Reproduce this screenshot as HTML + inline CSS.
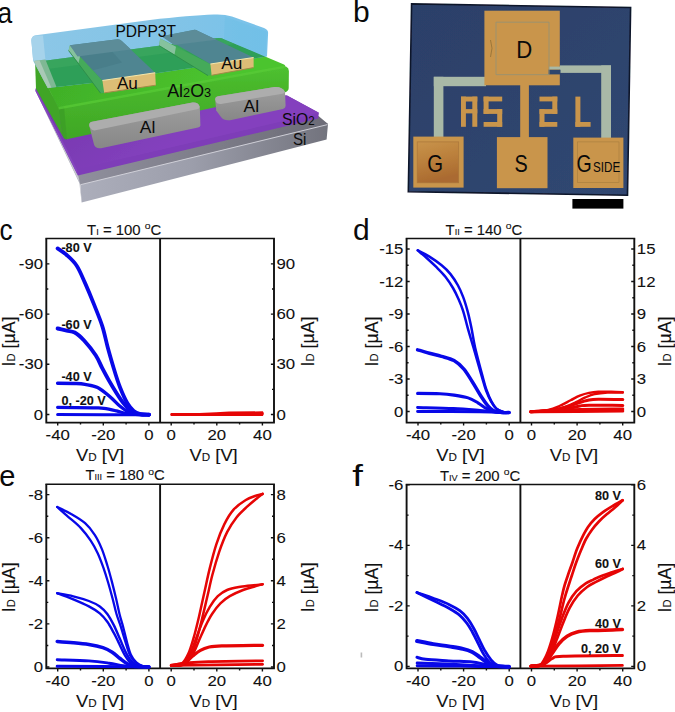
<!DOCTYPE html>
<html><head><meta charset="utf-8"><title>figure</title>
<style>
html,body{margin:0;padding:0;background:#fff;}
svg{display:block;}
text{font-family:"Liberation Sans",sans-serif;}
</style></head><body>
<svg width="675" height="712" viewBox="0 0 675 712">
<rect width="675" height="712" fill="#fff"/>
<path d="M46.3 414.5h3.1M274.0 414.5h-3.1M46.3 364.3h3.1M274.0 364.3h-3.1M46.3 314.1h3.1M274.0 314.1h-3.1M46.3 263.9h3.1M274.0 263.9h-3.1M46.3 389.4h2.0M274.0 389.4h-2.0M46.3 339.2h2.0M274.0 339.2h-2.0M46.3 289.0h2.0M274.0 289.0h-2.0M57.7 422.6v3.0M103.3 422.6v3.0M148.9 422.6v3.0M80.5 422.6v2.0M126.1 422.6v2.0M171.2 422.6v3.0M216.8 422.6v3.0M262.4 422.6v3.0M194.0 422.6v2.0M239.6 422.6v2.0" stroke="#111" stroke-width="1.4" fill="none"/>
<path d="M45.4 238.4H274.9" stroke="#111" stroke-width="1.5" fill="none"/>
<path d="M45.4 422.6H274.9M46.3 238.4V422.6M274.0 238.4V422.6M160.1 238.4V422.6" stroke="#111" stroke-width="1.9" fill="none"/>
<text transform="translate(43.1 419.5) scale(1.090 1)" font-size="15.4" text-anchor="end" font-weight="normal" fill="#111"  stroke="#111" stroke-width="0.10">0</text>
<text transform="translate(43.1 369.3) scale(1.090 1)" font-size="15.4" text-anchor="end" font-weight="normal" fill="#111"  stroke="#111" stroke-width="0.10">-30</text>
<text transform="translate(43.1 319.1) scale(1.090 1)" font-size="15.4" text-anchor="end" font-weight="normal" fill="#111"  stroke="#111" stroke-width="0.10">-60</text>
<text transform="translate(43.1 268.9) scale(1.090 1)" font-size="15.4" text-anchor="end" font-weight="normal" fill="#111"  stroke="#111" stroke-width="0.10">-90</text>
<text transform="translate(276.5 419.5) scale(1.090 1)" font-size="15.4" text-anchor="start" font-weight="normal" fill="#111"  stroke="#111" stroke-width="0.10">0</text>
<text transform="translate(276.5 369.3) scale(1.090 1)" font-size="15.4" text-anchor="start" font-weight="normal" fill="#111"  stroke="#111" stroke-width="0.10">30</text>
<text transform="translate(276.5 319.1) scale(1.090 1)" font-size="15.4" text-anchor="start" font-weight="normal" fill="#111"  stroke="#111" stroke-width="0.10">60</text>
<text transform="translate(276.5 268.9) scale(1.090 1)" font-size="15.4" text-anchor="start" font-weight="normal" fill="#111"  stroke="#111" stroke-width="0.10">90</text>
<text transform="translate(57.7 439.9) scale(1.090 1)" font-size="15.4" text-anchor="middle" font-weight="normal" fill="#111"  stroke="#111" stroke-width="0.10">-40</text>
<text transform="translate(103.3 439.9) scale(1.090 1)" font-size="15.4" text-anchor="middle" font-weight="normal" fill="#111"  stroke="#111" stroke-width="0.10">-20</text>
<text transform="translate(148.9 439.9) scale(1.090 1)" font-size="15.4" text-anchor="middle" font-weight="normal" fill="#111"  stroke="#111" stroke-width="0.10">0</text>
<text transform="translate(171.2 439.9) scale(1.090 1)" font-size="15.4" text-anchor="middle" font-weight="normal" fill="#111"  stroke="#111" stroke-width="0.10">0</text>
<text transform="translate(216.8 439.9) scale(1.090 1)" font-size="15.4" text-anchor="middle" font-weight="normal" fill="#111"  stroke="#111" stroke-width="0.10">20</text>
<text transform="translate(262.4 439.9) scale(1.090 1)" font-size="15.4" text-anchor="middle" font-weight="normal" fill="#111"  stroke="#111" stroke-width="0.10">40</text>
<text transform="translate(100.1 461.1) scale(1.080 1)" font-size="17.0" text-anchor="middle" font-weight="normal" fill="#111"  stroke="#111" stroke-width="0.10">V<tspan font-size="10.8">D</tspan> [V]</text>
<text transform="translate(213.6 461.1) scale(1.080 1)" font-size="17.0" text-anchor="middle" font-weight="normal" fill="#111"  stroke="#111" stroke-width="0.10">V<tspan font-size="10.8">D</tspan> [V]</text>
<text transform="translate(15.2 341.5) rotate(-90) scale(0.990 1)" font-size="17.9" text-anchor="middle" font-weight="normal" fill="#111"  stroke="#111" stroke-width="0.10">I<tspan font-size="11.3">D</tspan> [µA]</text>
<text transform="translate(313.8 341.5) rotate(-90) scale(0.990 1)" font-size="17.9" text-anchor="middle" font-weight="normal" fill="#111"  stroke="#111" stroke-width="0.10">I<tspan font-size="11.3">D</tspan> [µA]</text>
<text transform="translate(87.1 234.5) scale(1.080 1)" font-size="13.8" text-anchor="start" font-weight="normal" fill="#111"  stroke="#111" stroke-width="0.10">T<tspan font-size="8.5">I</tspan> = 100 <tspan font-size="9.6" dy="-5.6">o</tspan><tspan dy="5.6">C</tspan></text>
<path d="M57.6 414.6C72.8 414.6 133.8 414.7 149.0 414.7" fill="none" stroke="#0808e8" stroke-width="3.00" stroke-linecap="round" stroke-linejoin="round"/>
<path d="M57.6 407.3C63.6 407.4 85.7 407.6 93.4 407.8C101.1 408.0 100.1 407.8 104.0 408.3C107.9 408.8 112.8 410.0 116.6 410.9C120.4 411.8 123.0 412.8 126.7 413.4C130.4 414.0 135.1 414.4 138.8 414.6C142.5 414.8 147.3 414.7 149.0 414.7" fill="none" stroke="#0808e8" stroke-width="3.20" stroke-linecap="round" stroke-linejoin="round"/>
<path d="M57.6 383.2C60.5 383.2 70.1 383.3 74.7 383.5C79.3 383.7 81.2 383.7 85.0 384.4C88.8 385.1 93.4 385.4 97.6 387.5C101.8 389.6 106.5 393.8 110.3 397.0C114.1 400.2 117.2 404.0 120.4 406.5C123.6 409.0 126.1 410.9 129.2 412.2C132.3 413.5 135.5 414.0 138.8 414.4C142.1 414.8 147.3 414.6 149.0 414.7" fill="none" stroke="#0808e8" stroke-width="3.40" stroke-linecap="round" stroke-linejoin="round"/>
<path d="M57.6 328.5C59.1 328.9 63.9 329.9 66.7 330.6C69.5 331.3 71.8 330.9 74.7 332.5C77.6 334.1 80.6 336.7 84.1 340.5C87.6 344.3 92.7 350.7 95.7 355.3C98.7 359.9 99.9 363.7 102.1 367.9C104.3 372.1 106.6 376.4 109.0 380.6C111.4 384.8 114.2 389.4 116.6 393.2C119.0 397.0 121.2 400.4 123.6 403.3C126.0 406.2 128.4 409.1 131.1 410.9C133.8 412.7 136.5 413.5 139.5 414.1C142.5 414.7 147.4 414.6 149.0 414.7" fill="none" stroke="#0808e8" stroke-width="3.90" stroke-linecap="round" stroke-linejoin="round"/>
<path d="M57.6 248.4C59.1 249.5 63.5 252.1 66.7 255.0C69.9 257.9 73.6 261.0 76.7 265.7C79.8 270.4 82.2 276.7 85.1 283.1C88.0 289.6 91.2 297.3 94.0 304.4C96.8 311.5 99.9 318.7 102.2 325.8C104.5 332.9 105.8 340.1 107.7 347.2C109.6 354.3 111.8 361.8 113.8 368.5C115.8 375.2 117.7 381.4 120.0 387.2C122.3 393.0 125.1 399.4 127.4 403.3C129.7 407.2 131.5 409.1 133.7 410.9C135.9 412.7 138.0 413.5 140.6 414.1C143.2 414.7 147.6 414.6 149.0 414.7" fill="none" stroke="#0808e8" stroke-width="3.80" stroke-linecap="round" stroke-linejoin="round"/>
<path d="M171 413L199.4 413L216 412.3L229 411.6L262.8 411.3Q264.9 413.6 262.8 415.9L171 415.9Q169.4 414.5 171 413Z" fill="#e60505"/>
<text transform="translate(61.4 251.6) scale(0.960 1)" font-size="13.2" text-anchor="start" font-weight="bold" fill="#111"  stroke="#111" stroke-width="0.10">-80 V</text>
<text transform="translate(61.4 328.5) scale(0.960 1)" font-size="13.2" text-anchor="start" font-weight="bold" fill="#111"  stroke="#111" stroke-width="0.10">-60 V</text>
<text transform="translate(61.4 381.4) scale(0.960 1)" font-size="13.2" text-anchor="start" font-weight="bold" fill="#111"  stroke="#111" stroke-width="0.10">-40 V</text>
<text transform="translate(61.4 405.1) scale(0.960 1)" font-size="13.2" text-anchor="start" font-weight="bold" fill="#111"  stroke="#111" stroke-width="0.10">0, -20 V</text>
<path d="M406.6 411.5h3.1M634.3 411.5h-3.1M406.6 379.0h3.1M634.3 379.0h-3.1M406.6 346.5h3.1M634.3 346.5h-3.1M406.6 314.0h3.1M634.3 314.0h-3.1M406.6 281.5h3.1M634.3 281.5h-3.1M406.6 249.0h3.1M634.3 249.0h-3.1M406.6 395.2h2.0M634.3 395.2h-2.0M406.6 362.8h2.0M634.3 362.8h-2.0M406.6 330.2h2.0M634.3 330.2h-2.0M406.6 297.8h2.0M634.3 297.8h-2.0M406.6 265.2h2.0M634.3 265.2h-2.0M418.0 422.6v3.0M463.6 422.6v3.0M509.2 422.6v3.0M440.8 422.6v2.0M486.4 422.6v2.0M531.5 422.6v3.0M577.1 422.6v3.0M622.7 422.6v3.0M554.3 422.6v2.0M599.9 422.6v2.0" stroke="#111" stroke-width="1.4" fill="none"/>
<path d="M405.7 238.4H635.2" stroke="#111" stroke-width="1.5" fill="none"/>
<path d="M405.7 422.6H635.2M406.6 238.4V422.6M634.3 238.4V422.6M520.4 238.4V422.6" stroke="#111" stroke-width="1.9" fill="none"/>
<text transform="translate(403.4 416.5) scale(1.090 1)" font-size="15.4" text-anchor="end" font-weight="normal" fill="#111"  stroke="#111" stroke-width="0.10">0</text>
<text transform="translate(403.4 384.0) scale(1.090 1)" font-size="15.4" text-anchor="end" font-weight="normal" fill="#111"  stroke="#111" stroke-width="0.10">-3</text>
<text transform="translate(403.4 351.5) scale(1.090 1)" font-size="15.4" text-anchor="end" font-weight="normal" fill="#111"  stroke="#111" stroke-width="0.10">-6</text>
<text transform="translate(403.4 319.0) scale(1.090 1)" font-size="15.4" text-anchor="end" font-weight="normal" fill="#111"  stroke="#111" stroke-width="0.10">-9</text>
<text transform="translate(403.4 286.5) scale(1.090 1)" font-size="15.4" text-anchor="end" font-weight="normal" fill="#111"  stroke="#111" stroke-width="0.10">-12</text>
<text transform="translate(403.4 254.0) scale(1.090 1)" font-size="15.4" text-anchor="end" font-weight="normal" fill="#111"  stroke="#111" stroke-width="0.10">-15</text>
<text transform="translate(636.8 416.5) scale(1.090 1)" font-size="15.4" text-anchor="start" font-weight="normal" fill="#111"  stroke="#111" stroke-width="0.10">0</text>
<text transform="translate(636.8 384.0) scale(1.090 1)" font-size="15.4" text-anchor="start" font-weight="normal" fill="#111"  stroke="#111" stroke-width="0.10">3</text>
<text transform="translate(636.8 351.5) scale(1.090 1)" font-size="15.4" text-anchor="start" font-weight="normal" fill="#111"  stroke="#111" stroke-width="0.10">6</text>
<text transform="translate(636.8 319.0) scale(1.090 1)" font-size="15.4" text-anchor="start" font-weight="normal" fill="#111"  stroke="#111" stroke-width="0.10">9</text>
<text transform="translate(636.8 286.5) scale(1.090 1)" font-size="15.4" text-anchor="start" font-weight="normal" fill="#111"  stroke="#111" stroke-width="0.10">12</text>
<text transform="translate(636.8 254.0) scale(1.090 1)" font-size="15.4" text-anchor="start" font-weight="normal" fill="#111"  stroke="#111" stroke-width="0.10">15</text>
<text transform="translate(418.0 439.9) scale(1.090 1)" font-size="15.4" text-anchor="middle" font-weight="normal" fill="#111"  stroke="#111" stroke-width="0.10">-40</text>
<text transform="translate(463.6 439.9) scale(1.090 1)" font-size="15.4" text-anchor="middle" font-weight="normal" fill="#111"  stroke="#111" stroke-width="0.10">-20</text>
<text transform="translate(509.2 439.9) scale(1.090 1)" font-size="15.4" text-anchor="middle" font-weight="normal" fill="#111"  stroke="#111" stroke-width="0.10">0</text>
<text transform="translate(531.5 439.9) scale(1.090 1)" font-size="15.4" text-anchor="middle" font-weight="normal" fill="#111"  stroke="#111" stroke-width="0.10">0</text>
<text transform="translate(577.1 439.9) scale(1.090 1)" font-size="15.4" text-anchor="middle" font-weight="normal" fill="#111"  stroke="#111" stroke-width="0.10">20</text>
<text transform="translate(622.7 439.9) scale(1.090 1)" font-size="15.4" text-anchor="middle" font-weight="normal" fill="#111"  stroke="#111" stroke-width="0.10">40</text>
<text transform="translate(460.4 461.1) scale(1.080 1)" font-size="17.0" text-anchor="middle" font-weight="normal" fill="#111"  stroke="#111" stroke-width="0.10">V<tspan font-size="10.8">D</tspan> [V]</text>
<text transform="translate(573.9 461.1) scale(1.080 1)" font-size="17.0" text-anchor="middle" font-weight="normal" fill="#111"  stroke="#111" stroke-width="0.10">V<tspan font-size="10.8">D</tspan> [V]</text>
<text transform="translate(377.7 341.5) rotate(-90) scale(0.990 1)" font-size="17.9" text-anchor="middle" font-weight="normal" fill="#111"  stroke="#111" stroke-width="0.10">I<tspan font-size="11.3">D</tspan> [µA]</text>
<text transform="translate(670.9 341.5) rotate(-90) scale(0.990 1)" font-size="17.9" text-anchor="middle" font-weight="normal" fill="#111"  stroke="#111" stroke-width="0.10">I<tspan font-size="11.3">D</tspan> [µA]</text>
<text transform="translate(445.6 234.5) scale(1.080 1)" font-size="13.8" text-anchor="start" font-weight="normal" fill="#111"  stroke="#111" stroke-width="0.10">T<tspan font-size="8.5">II</tspan> = 140 <tspan font-size="9.6" dy="-5.6">o</tspan><tspan dy="5.6">C</tspan></text>
<path d="M417.6 411.5C428.0 411.6 464.8 411.6 480.0 411.8C495.2 412.0 504.2 412.5 509.0 412.6" fill="none" stroke="#0808e8" stroke-width="3.00" stroke-linecap="round" stroke-linejoin="round"/>
<path d="M417.6 407.5C423.6 407.7 443.0 408.1 453.4 408.6C463.8 409.1 472.5 409.9 480.1 410.5C487.7 411.1 494.0 411.9 498.8 412.3C503.6 412.7 507.3 412.6 509.0 412.6" fill="none" stroke="#0808e8" stroke-width="3.00" stroke-linecap="round" stroke-linejoin="round"/>
<path d="M417.6 393.4C421.3 393.4 433.9 393.4 440.0 393.7C446.1 394.0 449.3 394.4 454.0 395.1C458.7 395.8 464.1 396.6 468.1 397.9C472.1 399.2 474.9 401.1 477.9 402.8C480.9 404.6 483.8 407.0 486.3 408.4C488.8 409.8 490.7 410.5 493.0 411.2C495.3 411.9 497.3 412.1 500.0 412.3C502.7 412.5 507.5 412.6 509.0 412.6" fill="none" stroke="#0808e8" stroke-width="3.10" stroke-linecap="round" stroke-linejoin="round"/>
<path d="M417.6 349.9C419.6 350.4 425.4 352.1 429.4 353.2C433.4 354.3 437.4 355.2 441.5 356.4C445.6 357.6 450.3 358.5 454.0 360.6C457.7 362.7 460.8 365.6 463.9 369.1C466.9 372.6 469.5 377.4 472.3 381.8C475.1 386.2 478.1 391.8 480.7 395.8C483.3 399.8 485.6 403.2 487.7 405.6C489.8 408.1 491.0 409.4 493.3 410.5C495.6 411.6 498.9 412.0 501.5 412.4C504.1 412.8 507.8 412.6 509.0 412.6" fill="none" stroke="#0808e8" stroke-width="3.50" stroke-linecap="round" stroke-linejoin="round"/>
<path d="M417.8 250.4C419.7 251.4 425.0 253.9 429.0 256.4C433.0 258.9 438.0 262.4 441.6 265.3C445.2 268.2 447.8 270.7 450.5 274.1C453.2 277.5 455.9 281.7 458.0 285.5C460.1 289.3 461.5 292.7 463.1 296.9C464.7 301.1 466.1 305.8 467.5 310.8C468.9 315.9 470.0 321.0 471.3 327.2C472.6 333.4 473.3 339.9 475.2 348.0C477.1 356.1 480.6 369.1 482.5 376.1C484.4 383.1 485.1 386.0 486.6 390.2C488.1 394.4 489.8 398.4 491.4 401.4C493.0 404.4 494.1 406.6 496.1 408.4C498.1 410.1 501.1 411.2 503.2 411.9C505.3 412.6 508.0 412.5 509.0 412.6" fill="none" stroke="#0808e8" stroke-width="2.50" stroke-linecap="round" stroke-linejoin="round"/>
<path d="M417.8 250.4C419.2 251.6 423.3 254.9 426.4 257.7C429.5 260.5 433.3 264.0 436.5 267.2C439.7 270.4 442.6 273.2 445.4 276.7C448.1 280.2 450.8 284.2 453.0 288.0C455.2 291.8 457.0 295.6 458.7 299.4C460.4 303.2 461.6 306.2 463.1 310.8C464.6 315.4 465.8 321.0 467.5 327.2C469.2 333.4 471.2 339.9 473.6 348.0C476.0 356.1 479.6 369.1 481.7 376.1C483.8 383.1 484.4 386.0 486.0 390.2C487.6 394.4 489.3 398.4 491.0 401.4C492.7 404.4 494.1 406.6 496.1 408.4C498.1 410.1 501.1 411.2 503.2 411.9C505.3 412.6 508.0 412.5 509.0 412.6" fill="none" stroke="#0808e8" stroke-width="2.50" stroke-linecap="round" stroke-linejoin="round"/>
<path d="M530.7 411.7C546.1 411.6 607.4 411.2 622.8 411.1" fill="none" stroke="#e60505" stroke-width="3.00" stroke-linecap="round" stroke-linejoin="round"/>
<path d="M530.7 411.7C535.6 411.6 551.8 411.2 560.0 410.8C568.2 410.4 569.5 409.7 580.0 409.4C590.5 409.1 615.7 409.0 622.8 408.9" fill="none" stroke="#e60505" stroke-width="3.00" stroke-linecap="round" stroke-linejoin="round"/>
<path d="M530.7 411.7C534.2 411.5 546.0 410.8 552.0 410.3C558.0 409.8 562.3 409.6 566.9 408.9C571.5 408.2 576.1 406.6 579.8 406.0C583.5 405.4 581.9 405.3 589.1 405.2C596.3 405.1 617.2 405.4 622.8 405.4" fill="none" stroke="#e60505" stroke-width="3.00" stroke-linecap="round" stroke-linejoin="round"/>
<path d="M530.7 411.7C534.2 411.5 546.0 411.1 552.0 410.3C558.0 409.5 562.6 408.2 566.9 407.0C571.2 405.8 574.3 404.2 578.0 403.0C581.7 401.8 585.7 400.6 589.1 400.0C592.5 399.4 592.7 399.4 598.3 399.3C603.9 399.2 618.7 399.6 622.8 399.6" fill="none" stroke="#e60505" stroke-width="3.00" stroke-linecap="round" stroke-linejoin="round"/>
<path d="M530.7 411.7C533.6 411.4 543.5 410.8 548.3 409.8C553.1 408.9 555.7 407.6 559.4 406.0C563.1 404.4 567.2 402.0 570.6 400.3C574.0 398.6 576.7 396.8 579.8 395.6C582.9 394.4 586.0 393.5 589.1 392.9C592.2 392.3 594.6 392.0 598.3 391.8C602.0 391.6 607.2 391.6 611.3 391.7C615.4 391.8 620.9 392.1 622.8 392.2" fill="none" stroke="#e60505" stroke-width="2.40" stroke-linecap="round" stroke-linejoin="round"/>
<path d="M530.7 411.7C534.2 411.4 546.3 411.0 552.0 410.2C557.7 409.4 561.0 408.3 565.0 406.9C569.0 405.5 572.7 403.6 576.1 402.0C579.5 400.4 582.3 398.7 585.4 397.4C588.5 396.1 590.9 395.0 594.6 394.2C598.3 393.4 602.9 392.9 607.6 392.6C612.3 392.3 620.3 392.6 622.8 392.6" fill="none" stroke="#e60505" stroke-width="2.40" stroke-linecap="round" stroke-linejoin="round"/>
<path d="M46.3 667.0h3.1M274.0 667.0h-3.1M46.3 623.9h3.1M274.0 623.9h-3.1M46.3 580.8h3.1M274.0 580.8h-3.1M46.3 537.7h3.1M274.0 537.7h-3.1M46.3 494.6h3.1M274.0 494.6h-3.1M46.3 645.5h2.0M274.0 645.5h-2.0M46.3 602.4h2.0M274.0 602.4h-2.0M46.3 559.2h2.0M274.0 559.2h-2.0M46.3 516.2h2.0M274.0 516.2h-2.0M57.7 668.4v3.0M103.3 668.4v3.0M148.9 668.4v3.0M80.5 668.4v2.0M126.1 668.4v2.0M171.2 668.4v3.0M216.8 668.4v3.0M262.4 668.4v3.0M194.0 668.4v2.0M239.6 668.4v2.0" stroke="#111" stroke-width="1.4" fill="none"/>
<path d="M45.4 484.2H274.9" stroke="#111" stroke-width="1.5" fill="none"/>
<path d="M45.4 668.4H274.9M46.3 484.2V668.4M274.0 484.2V668.4M160.1 484.2V668.4" stroke="#111" stroke-width="1.9" fill="none"/>
<text transform="translate(43.1 672.0) scale(1.090 1)" font-size="15.4" text-anchor="end" font-weight="normal" fill="#111"  stroke="#111" stroke-width="0.10">0</text>
<text transform="translate(43.1 628.9) scale(1.090 1)" font-size="15.4" text-anchor="end" font-weight="normal" fill="#111"  stroke="#111" stroke-width="0.10">-2</text>
<text transform="translate(43.1 585.8) scale(1.090 1)" font-size="15.4" text-anchor="end" font-weight="normal" fill="#111"  stroke="#111" stroke-width="0.10">-4</text>
<text transform="translate(43.1 542.7) scale(1.090 1)" font-size="15.4" text-anchor="end" font-weight="normal" fill="#111"  stroke="#111" stroke-width="0.10">-6</text>
<text transform="translate(43.1 499.6) scale(1.090 1)" font-size="15.4" text-anchor="end" font-weight="normal" fill="#111"  stroke="#111" stroke-width="0.10">-8</text>
<text transform="translate(276.5 672.0) scale(1.090 1)" font-size="15.4" text-anchor="start" font-weight="normal" fill="#111"  stroke="#111" stroke-width="0.10">0</text>
<text transform="translate(276.5 628.9) scale(1.090 1)" font-size="15.4" text-anchor="start" font-weight="normal" fill="#111"  stroke="#111" stroke-width="0.10">2</text>
<text transform="translate(276.5 585.8) scale(1.090 1)" font-size="15.4" text-anchor="start" font-weight="normal" fill="#111"  stroke="#111" stroke-width="0.10">4</text>
<text transform="translate(276.5 542.7) scale(1.090 1)" font-size="15.4" text-anchor="start" font-weight="normal" fill="#111"  stroke="#111" stroke-width="0.10">6</text>
<text transform="translate(276.5 499.6) scale(1.090 1)" font-size="15.4" text-anchor="start" font-weight="normal" fill="#111"  stroke="#111" stroke-width="0.10">8</text>
<text transform="translate(57.7 685.7) scale(1.090 1)" font-size="15.4" text-anchor="middle" font-weight="normal" fill="#111"  stroke="#111" stroke-width="0.10">-40</text>
<text transform="translate(103.3 685.7) scale(1.090 1)" font-size="15.4" text-anchor="middle" font-weight="normal" fill="#111"  stroke="#111" stroke-width="0.10">-20</text>
<text transform="translate(148.9 685.7) scale(1.090 1)" font-size="15.4" text-anchor="middle" font-weight="normal" fill="#111"  stroke="#111" stroke-width="0.10">0</text>
<text transform="translate(171.2 685.7) scale(1.090 1)" font-size="15.4" text-anchor="middle" font-weight="normal" fill="#111"  stroke="#111" stroke-width="0.10">0</text>
<text transform="translate(216.8 685.7) scale(1.090 1)" font-size="15.4" text-anchor="middle" font-weight="normal" fill="#111"  stroke="#111" stroke-width="0.10">20</text>
<text transform="translate(262.4 685.7) scale(1.090 1)" font-size="15.4" text-anchor="middle" font-weight="normal" fill="#111"  stroke="#111" stroke-width="0.10">40</text>
<text transform="translate(100.1 706.9) scale(1.080 1)" font-size="17.0" text-anchor="middle" font-weight="normal" fill="#111"  stroke="#111" stroke-width="0.10">V<tspan font-size="10.8">D</tspan> [V]</text>
<text transform="translate(213.6 706.9) scale(1.080 1)" font-size="17.0" text-anchor="middle" font-weight="normal" fill="#111"  stroke="#111" stroke-width="0.10">V<tspan font-size="10.8">D</tspan> [V]</text>
<text transform="translate(15.2 587.3) rotate(-90) scale(0.990 1)" font-size="17.9" text-anchor="middle" font-weight="normal" fill="#111"  stroke="#111" stroke-width="0.10">I<tspan font-size="11.3">D</tspan> [µA]</text>
<text transform="translate(313.8 587.3) rotate(-90) scale(0.990 1)" font-size="17.9" text-anchor="middle" font-weight="normal" fill="#111"  stroke="#111" stroke-width="0.10">I<tspan font-size="11.3">D</tspan> [µA]</text>
<text transform="translate(85.4 480.3) scale(1.080 1)" font-size="13.8" text-anchor="start" font-weight="normal" fill="#111"  stroke="#111" stroke-width="0.10">T<tspan font-size="8.5">III</tspan> = 180 <tspan font-size="9.6" dy="-5.6">o</tspan><tspan dy="5.6">C</tspan></text>
<path d="M57.2 666.3C72.5 666.4 133.7 666.8 149.0 666.9" fill="none" stroke="#0808e8" stroke-width="3.00" stroke-linecap="round" stroke-linejoin="round"/>
<path d="M57.2 659.8C62.5 660.0 80.2 660.3 88.9 660.9C97.6 661.5 103.4 662.4 109.1 663.2C114.8 664.0 118.8 665.2 123.1 665.8C127.4 666.4 130.7 666.5 135.0 666.7C139.3 666.9 146.7 666.9 149.0 666.9" fill="none" stroke="#0808e8" stroke-width="2.90" stroke-linecap="round" stroke-linejoin="round"/>
<path d="M57.2 641.4C59.9 641.6 68.0 642.2 73.3 642.7C78.6 643.2 84.0 643.7 88.9 644.5C93.8 645.3 99.0 646.4 102.9 647.7C106.8 649.0 109.4 650.5 112.2 652.3C115.0 654.1 117.4 656.5 120.0 658.5C122.6 660.5 125.0 662.7 127.8 664.0C130.6 665.3 133.5 665.8 137.0 666.3C140.5 666.8 147.0 666.8 149.0 666.9" fill="none" stroke="#0808e8" stroke-width="3.50" stroke-linecap="round" stroke-linejoin="round"/>
<path d="M57.2 593.2C59.9 593.7 68.0 595.0 73.3 596.3C78.6 597.6 84.5 599.3 88.9 601.0C93.3 602.7 96.7 604.2 99.8 606.4C102.9 608.6 105.2 611.1 107.5 614.2C109.8 617.3 111.7 621.0 113.8 625.1C115.9 629.2 117.9 634.4 120.0 639.1C122.1 643.8 124.1 649.2 126.2 653.1C128.3 657.0 130.3 660.2 132.4 662.4C134.5 664.5 136.2 665.2 139.0 666.0C141.8 666.8 147.3 666.8 149.0 666.9" fill="none" stroke="#0808e8" stroke-width="2.40" stroke-linecap="round" stroke-linejoin="round"/>
<path d="M57.2 593.2C59.9 594.2 68.0 597.2 73.3 599.4C78.6 601.6 84.5 604.1 88.9 606.4C93.3 608.7 96.7 610.8 99.8 613.4C102.9 616.0 105.2 618.8 107.5 622.0C109.8 625.2 111.8 629.3 113.8 632.9C115.8 636.5 117.3 639.9 119.2 643.8C121.1 647.7 123.3 652.8 125.4 656.2C127.5 659.6 129.3 662.3 131.6 664.0C133.9 665.7 136.1 665.8 139.0 666.3C141.9 666.8 147.3 666.8 149.0 666.9" fill="none" stroke="#0808e8" stroke-width="2.40" stroke-linecap="round" stroke-linejoin="round"/>
<path d="M57.2 507.0C59.5 508.2 66.4 511.3 71.1 514.0C75.8 516.7 81.1 519.7 85.1 523.2C89.1 526.7 92.1 530.8 94.9 535.1C97.7 539.4 99.8 544.0 101.9 549.1C104.0 554.2 105.8 560.6 107.5 566.0C109.2 571.4 110.4 576.0 111.8 581.4C113.2 586.8 114.7 592.8 116.0 598.2C117.3 603.6 118.3 609.2 119.5 614.0C120.7 618.8 121.8 622.0 123.1 626.7C124.3 631.4 125.7 637.5 127.0 642.2C128.3 646.9 129.3 651.3 130.9 654.7C132.5 658.1 134.2 660.5 136.3 662.4C138.4 664.3 141.2 665.5 143.3 666.3C145.4 667.0 148.1 666.8 149.0 666.9" fill="none" stroke="#0808e8" stroke-width="2.30" stroke-linecap="round" stroke-linejoin="round"/>
<path d="M57.2 507.0C59.0 508.6 64.2 513.3 68.2 516.8C72.2 520.3 77.2 524.1 80.9 528.1C84.7 532.1 87.9 536.5 90.7 540.7C93.5 544.9 95.6 548.8 97.7 553.3C99.8 557.8 101.5 562.5 103.3 567.4C105.0 572.3 106.7 577.7 108.2 582.8C109.7 587.9 111.1 593.0 112.5 598.2C113.9 603.4 115.1 609.2 116.5 614.0C117.9 618.8 119.3 622.0 120.8 626.7C122.3 631.4 124.0 637.5 125.5 642.2C127.0 646.9 128.1 651.3 129.8 654.7C131.5 658.1 133.3 660.7 135.5 662.6C137.7 664.5 140.8 665.7 143.0 666.4C145.2 667.1 148.0 666.8 149.0 666.9" fill="none" stroke="#0808e8" stroke-width="2.30" stroke-linecap="round" stroke-linejoin="round"/>
<path d="M171.3 665.4C186.5 665.2 247.4 664.5 262.6 664.3" fill="none" stroke="#e60505" stroke-width="2.80" stroke-linecap="round" stroke-linejoin="round"/>
<path d="M171.3 665.4C173.9 665.0 180.8 663.6 187.0 663.0C193.2 662.4 195.8 662.0 208.4 661.6C221.0 661.2 253.6 660.9 262.6 660.8" fill="none" stroke="#e60505" stroke-width="2.80" stroke-linecap="round" stroke-linejoin="round"/>
<path d="M171.3 665.4C173.5 665.0 180.9 664.5 184.4 663.0C187.9 661.5 189.7 658.4 192.4 656.3C195.1 654.2 197.7 651.9 200.4 650.4C203.1 648.9 204.8 648.0 208.4 647.2C212.0 646.5 212.8 646.2 221.8 645.9C230.8 645.6 255.8 645.4 262.6 645.3" fill="none" stroke="#e60505" stroke-width="3.20" stroke-linecap="round" stroke-linejoin="round"/>
<path d="M171.3 665.4C173.0 665.2 178.6 666.0 181.7 664.3C184.8 662.5 187.2 659.3 189.7 654.9C192.1 650.5 194.2 643.4 196.4 637.6C198.6 631.8 200.9 625.3 203.1 620.2C205.3 615.1 207.4 610.9 209.8 606.9C212.2 602.9 214.9 599.0 217.8 596.2C220.7 593.4 223.3 591.6 227.1 590.0C230.9 588.4 236.1 587.6 240.5 586.8C244.9 586.0 250.1 585.6 253.8 585.2C257.5 584.8 261.1 584.4 262.6 584.2" fill="none" stroke="#e60505" stroke-width="2.50" stroke-linecap="round" stroke-linejoin="round"/>
<path d="M171.3 665.4C173.2 665.3 179.5 666.5 183.0 664.8C186.5 663.0 189.7 659.0 192.4 654.9C195.1 650.8 196.9 645.2 199.1 640.3C201.3 635.4 203.5 630.1 205.7 625.6C207.9 621.1 209.9 617.2 212.4 613.5C214.9 609.8 217.5 606.3 220.4 603.4C223.3 600.5 226.0 598.4 229.8 596.2C233.6 594.0 238.9 591.6 243.1 590.0C247.3 588.4 251.9 587.3 255.2 586.3C258.4 585.3 261.4 584.6 262.6 584.2" fill="none" stroke="#e60505" stroke-width="2.50" stroke-linecap="round" stroke-linejoin="round"/>
<path d="M171.3 665.4C173.0 665.1 178.8 665.8 181.7 663.8C184.5 661.8 186.4 658.0 188.4 653.6C190.4 649.2 191.9 643.8 193.7 637.6C195.5 631.4 197.3 623.8 199.1 616.2C200.9 608.6 202.6 600.2 204.4 592.2C206.2 584.2 207.8 576.1 209.8 568.1C211.8 560.1 214.0 551.4 216.4 544.1C218.8 536.8 221.5 529.9 224.4 524.1C227.3 518.3 230.2 513.4 233.8 509.4C237.4 505.4 242.0 502.3 245.8 500.0C249.6 497.7 253.7 496.5 256.5 495.5C259.3 494.5 261.6 494.2 262.6 493.9" fill="none" stroke="#e60505" stroke-width="2.50" stroke-linecap="round" stroke-linejoin="round"/>
<path d="M171.3 665.4C173.2 665.2 179.7 666.0 183.0 664.3C186.3 662.5 188.9 658.9 191.1 654.9C193.3 650.9 194.6 646.1 196.4 640.3C198.2 634.5 199.9 627.3 201.7 620.2C203.5 613.1 205.3 605.1 207.1 597.5C208.9 589.9 210.4 582.4 212.4 574.8C214.4 567.2 216.7 559.2 219.1 552.1C221.5 545.0 224.2 537.9 227.1 532.1C230.0 526.3 233.2 521.6 236.5 517.4C239.8 513.2 243.8 509.8 247.1 506.7C250.4 503.6 253.9 500.8 256.5 498.7C259.1 496.6 261.6 494.7 262.6 493.9" fill="none" stroke="#e60505" stroke-width="2.50" stroke-linecap="round" stroke-linejoin="round"/>
<path d="M406.6 666.4h3.1M634.3 666.4h-3.1M406.6 605.9h3.1M634.3 605.9h-3.1M406.6 545.4h3.1M634.3 545.4h-3.1M406.6 484.9h3.1M634.3 484.9h-3.1M406.6 636.1h2.0M634.3 636.1h-2.0M406.6 575.6h2.0M634.3 575.6h-2.0M406.6 515.1h2.0M634.3 515.1h-2.0M418.0 668.4v3.0M463.6 668.4v3.0M509.2 668.4v3.0M440.8 668.4v2.0M486.4 668.4v2.0M531.5 668.4v3.0M577.1 668.4v3.0M622.7 668.4v3.0M554.3 668.4v2.0M599.9 668.4v2.0" stroke="#111" stroke-width="1.4" fill="none"/>
<path d="M405.7 484.5H635.2" stroke="#111" stroke-width="1.5" fill="none"/>
<path d="M405.7 668.4H635.2M406.6 484.5V668.4M634.3 484.5V668.4M520.4 484.5V668.4" stroke="#111" stroke-width="1.9" fill="none"/>
<text transform="translate(403.4 671.4) scale(1.090 1)" font-size="15.4" text-anchor="end" font-weight="normal" fill="#111"  stroke="#111" stroke-width="0.10">0</text>
<text transform="translate(403.4 610.9) scale(1.090 1)" font-size="15.4" text-anchor="end" font-weight="normal" fill="#111"  stroke="#111" stroke-width="0.10">-2</text>
<text transform="translate(403.4 550.4) scale(1.090 1)" font-size="15.4" text-anchor="end" font-weight="normal" fill="#111"  stroke="#111" stroke-width="0.10">-4</text>
<text transform="translate(403.4 489.9) scale(1.090 1)" font-size="15.4" text-anchor="end" font-weight="normal" fill="#111"  stroke="#111" stroke-width="0.10">-6</text>
<text transform="translate(636.8 671.4) scale(1.090 1)" font-size="15.4" text-anchor="start" font-weight="normal" fill="#111"  stroke="#111" stroke-width="0.10">0</text>
<text transform="translate(636.8 610.9) scale(1.090 1)" font-size="15.4" text-anchor="start" font-weight="normal" fill="#111"  stroke="#111" stroke-width="0.10">2</text>
<text transform="translate(636.8 550.4) scale(1.090 1)" font-size="15.4" text-anchor="start" font-weight="normal" fill="#111"  stroke="#111" stroke-width="0.10">4</text>
<text transform="translate(636.8 489.9) scale(1.090 1)" font-size="15.4" text-anchor="start" font-weight="normal" fill="#111"  stroke="#111" stroke-width="0.10">6</text>
<text transform="translate(418.0 685.7) scale(1.090 1)" font-size="15.4" text-anchor="middle" font-weight="normal" fill="#111"  stroke="#111" stroke-width="0.10">-40</text>
<text transform="translate(463.6 685.7) scale(1.090 1)" font-size="15.4" text-anchor="middle" font-weight="normal" fill="#111"  stroke="#111" stroke-width="0.10">-20</text>
<text transform="translate(509.2 685.7) scale(1.090 1)" font-size="15.4" text-anchor="middle" font-weight="normal" fill="#111"  stroke="#111" stroke-width="0.10">0</text>
<text transform="translate(531.5 685.7) scale(1.090 1)" font-size="15.4" text-anchor="middle" font-weight="normal" fill="#111"  stroke="#111" stroke-width="0.10">0</text>
<text transform="translate(577.1 685.7) scale(1.090 1)" font-size="15.4" text-anchor="middle" font-weight="normal" fill="#111"  stroke="#111" stroke-width="0.10">20</text>
<text transform="translate(622.7 685.7) scale(1.090 1)" font-size="15.4" text-anchor="middle" font-weight="normal" fill="#111"  stroke="#111" stroke-width="0.10">40</text>
<text transform="translate(460.4 706.9) scale(1.080 1)" font-size="17.0" text-anchor="middle" font-weight="normal" fill="#111"  stroke="#111" stroke-width="0.10">V<tspan font-size="10.8">D</tspan> [V]</text>
<text transform="translate(573.9 706.9) scale(1.080 1)" font-size="17.0" text-anchor="middle" font-weight="normal" fill="#111"  stroke="#111" stroke-width="0.10">V<tspan font-size="10.8">D</tspan> [V]</text>
<text transform="translate(377.7 587.6) rotate(-90) scale(0.990 1)" font-size="17.9" text-anchor="middle" font-weight="normal" fill="#111"  stroke="#111" stroke-width="0.10">I<tspan font-size="11.3">D</tspan> [µA]</text>
<text transform="translate(670.9 587.6) rotate(-90) scale(0.990 1)" font-size="17.9" text-anchor="middle" font-weight="normal" fill="#111"  stroke="#111" stroke-width="0.10">I<tspan font-size="11.3">D</tspan> [µA]</text>
<text transform="translate(439.9 480.6) scale(1.080 1)" font-size="13.8" text-anchor="start" font-weight="normal" fill="#111"  stroke="#111" stroke-width="0.10">T<tspan font-size="8.5">IV</tspan> = 200 <tspan font-size="9.6" dy="-5.6">o</tspan><tspan dy="5.6">C</tspan></text>
<path d="M417.2 665.8C424.3 665.8 444.7 665.9 460.0 666.1C475.3 666.3 500.8 666.7 509.0 666.8" fill="none" stroke="#0808e8" stroke-width="3.00" stroke-linecap="round" stroke-linejoin="round"/>
<path d="M417.2 663.1C422.1 663.2 436.8 663.6 446.3 664.0C455.8 664.4 463.6 665.1 474.0 665.6C484.4 666.1 503.2 666.6 509.0 666.8" fill="none" stroke="#0808e8" stroke-width="3.00" stroke-linecap="round" stroke-linejoin="round"/>
<path d="M417.0 657.3C418.4 657.6 420.3 658.7 425.6 659.3C430.9 659.9 441.1 660.4 448.9 660.9C456.7 661.4 466.2 661.4 472.2 662.0C478.1 662.6 480.5 663.6 484.6 664.3C488.7 665.0 492.9 665.9 497.0 666.3C501.1 666.7 507.0 666.7 509.0 666.8" fill="none" stroke="#0808e8" stroke-width="3.00" stroke-linecap="round" stroke-linejoin="round"/>
<path d="M417.0 641.0C419.7 641.5 428.0 643.2 433.3 644.1C438.6 645.0 444.0 645.6 448.9 646.4C453.8 647.2 459.0 647.9 462.9 648.8C466.8 649.7 469.3 650.5 472.2 651.9C475.1 653.3 477.4 655.5 480.0 657.3C482.6 659.1 485.2 661.4 487.8 662.8C490.4 664.2 492.0 665.2 495.5 665.9C499.0 666.6 506.8 666.6 509.0 666.8" fill="none" stroke="#0808e8" stroke-width="3.90" stroke-linecap="round" stroke-linejoin="round"/>
<path d="M417.0 592.5C419.7 593.5 428.0 596.2 433.3 598.2C438.6 600.2 444.5 602.3 448.9 604.4C453.3 606.5 456.7 608.4 459.8 610.7C462.9 613.0 465.2 615.4 467.5 618.4C469.8 621.4 471.9 625.0 473.8 628.5C475.8 632.0 477.4 635.8 479.2 639.4C481.0 643.0 482.7 646.9 484.6 650.3C486.6 653.7 488.8 657.1 490.9 659.6C493.0 662.1 494.1 663.9 497.1 665.1C500.1 666.3 507.0 666.5 509.0 666.8" fill="none" stroke="#0808e8" stroke-width="2.80" stroke-linecap="round" stroke-linejoin="round"/>
<path d="M417.0 592.5C419.7 593.9 428.0 598.0 433.3 600.6C438.6 603.2 444.5 605.8 448.9 608.3C453.3 610.8 456.8 612.8 459.8 615.3C462.8 617.8 464.7 620.4 466.8 623.1C468.9 625.8 470.4 628.5 472.2 631.7C474.0 634.9 475.9 638.9 477.7 642.5C479.5 646.1 481.2 650.1 483.1 653.4C485.0 656.6 487.2 659.9 489.3 662.0C491.4 664.1 492.7 665.2 496.0 666.0C499.3 666.8 506.8 666.7 509.0 666.8" fill="none" stroke="#0808e8" stroke-width="2.80" stroke-linecap="round" stroke-linejoin="round"/>
<path d="M531.0 666.2C546.2 666.1 607.2 665.5 622.4 665.4" fill="none" stroke="#e60505" stroke-width="2.80" stroke-linecap="round" stroke-linejoin="round"/>
<path d="M531.0 666.2C533.2 665.8 540.8 665.1 544.4 663.8C548.0 662.5 549.3 659.6 552.4 658.4C555.5 657.1 551.4 656.8 563.1 656.3C574.8 655.8 612.5 655.6 622.4 655.5" fill="none" stroke="#e60505" stroke-width="3.00" stroke-linecap="round" stroke-linejoin="round"/>
<path d="M531.0 666.2C533.0 665.9 539.6 666.2 543.0 664.3C546.4 662.4 548.4 658.4 551.1 654.9C553.8 651.4 556.4 646.6 559.1 643.5C561.8 640.4 564.2 638.1 567.1 636.2C570.0 634.3 572.6 633.1 576.4 632.2C580.2 631.3 582.1 631.0 589.8 630.6C597.5 630.2 617.0 629.8 622.4 629.6" fill="none" stroke="#e60505" stroke-width="3.50" stroke-linecap="round" stroke-linejoin="round"/>
<path d="M531.0 666.2C532.7 666.0 538.1 666.7 541.0 664.8C543.9 662.9 546.0 659.4 548.4 654.9C550.8 650.4 552.9 643.6 555.1 637.6C557.3 631.6 559.5 624.7 561.7 618.9C563.9 613.1 566.0 607.5 568.4 602.9C570.8 598.3 573.5 594.5 576.4 591.2C579.3 588.0 583.0 585.3 585.8 583.4C588.6 581.5 590.5 580.9 593.3 579.6C596.1 578.3 599.6 576.6 602.7 575.4C605.8 574.2 608.7 573.3 612.0 572.2C615.3 571.1 620.9 569.5 622.7 569.0" fill="none" stroke="#e60505" stroke-width="2.70" stroke-linecap="round" stroke-linejoin="round"/>
<path d="M531.0 666.2C532.8 666.0 538.9 666.8 542.0 665.1C545.1 663.5 547.3 660.4 549.7 656.3C552.1 652.2 554.2 645.9 556.4 640.3C558.6 634.7 560.9 628.3 563.1 622.9C565.3 617.5 567.3 612.3 569.8 607.7C572.2 603.1 574.9 599.0 577.8 595.5C580.7 592.0 584.1 589.3 587.1 587.0C590.1 584.7 593.0 583.5 596.0 581.9C599.0 580.3 602.2 578.7 605.3 577.2C608.4 575.7 611.8 574.4 614.7 573.0C617.6 571.6 621.4 569.7 622.7 569.0" fill="none" stroke="#e60505" stroke-width="2.70" stroke-linecap="round" stroke-linejoin="round"/>
<path d="M531.0 666.2C532.6 666.0 537.7 666.9 540.4 664.8C543.1 662.7 545.1 658.1 547.1 653.6C549.1 649.1 550.6 643.8 552.4 637.6C554.2 631.4 556.1 623.3 557.7 616.2C559.3 609.1 561.0 600.2 562.2 595.0C563.4 589.8 563.7 588.3 564.7 585.0C565.7 581.7 566.7 578.9 568.0 575.0C569.3 571.1 571.2 566.2 572.7 561.7C574.2 557.2 575.6 552.5 577.3 548.3C579.0 544.1 580.9 539.8 582.7 536.3C584.5 532.8 586.0 529.9 588.0 527.0C590.0 524.1 592.2 521.5 594.7 519.0C597.2 516.5 599.8 514.4 602.7 512.3C605.6 510.2 608.7 508.3 612.0 506.3C615.3 504.3 620.9 501.3 622.7 500.3" fill="none" stroke="#e60505" stroke-width="2.70" stroke-linecap="round" stroke-linejoin="round"/>
<path d="M531.0 666.2C532.8 666.0 538.8 666.8 541.7 665.1C544.6 663.5 546.4 660.4 548.4 656.3C550.4 652.2 551.9 646.3 553.7 640.3C555.5 634.3 557.3 627.1 559.1 620.2C560.9 613.3 562.8 604.9 564.4 599.0C566.0 593.1 567.4 589.0 568.7 585.0C570.0 581.0 570.8 578.7 572.0 575.0C573.2 571.3 574.5 567.0 576.0 563.0C577.5 559.0 579.0 555.0 580.7 551.0C582.4 547.0 584.1 542.5 586.0 539.0C587.9 535.5 589.9 532.6 592.0 529.7C594.1 526.8 596.2 524.3 598.7 521.7C601.2 519.1 604.0 516.6 606.7 514.3C609.4 512.0 612.0 510.0 614.7 507.7C617.4 505.4 621.4 501.5 622.7 500.3" fill="none" stroke="#e60505" stroke-width="2.70" stroke-linecap="round" stroke-linejoin="round"/>
<text transform="translate(621.0 500.0) scale(0.960 1)" font-size="13.2" text-anchor="end" font-weight="bold" fill="#111"  stroke="#111" stroke-width="0.10">80 V</text>
<text transform="translate(621.0 568.1) scale(0.960 1)" font-size="13.2" text-anchor="end" font-weight="bold" fill="#111"  stroke="#111" stroke-width="0.10">60 V</text>
<text transform="translate(621.0 627.7) scale(0.960 1)" font-size="13.2" text-anchor="end" font-weight="bold" fill="#111"  stroke="#111" stroke-width="0.10">40 V</text>
<text transform="translate(621.0 653.0) scale(0.960 1)" font-size="13.2" text-anchor="end" font-weight="bold" fill="#111"  stroke="#111" stroke-width="0.10">0, 20 V</text>
<rect x="360.6" y="652.5" width="1.6" height="5" fill="#bbb"/>
<defs>
<linearGradient id="siF" x1="80" y1="0" x2="328" y2="0" gradientUnits="userSpaceOnUse"><stop offset="0" stop-color="#acaebb"/><stop offset="0.45" stop-color="#9c9eab"/><stop offset="1" stop-color="#72737d"/></linearGradient>
<linearGradient id="siT" x1="80" y1="0" x2="328" y2="0" gradientUnits="userSpaceOnUse"><stop offset="0" stop-color="#8f8f9c"/><stop offset="1" stop-color="#6c6c77"/></linearGradient>
<linearGradient id="puT" x1="60" y1="120" x2="110" y2="190" gradientUnits="userSpaceOnUse"><stop offset="0" stop-color="#7738b0"/><stop offset="1" stop-color="#8441be"/></linearGradient>
<linearGradient id="grF" x1="0" y1="0" x2="0" y2="1"><stop offset="0" stop-color="#4fc231"/><stop offset="0.3" stop-color="#48b72b"/><stop offset="1" stop-color="#40a726"/></linearGradient>
<linearGradient id="grT" x1="60" y1="40" x2="200" y2="120" gradientUnits="userSpaceOnUse"><stop offset="0" stop-color="#3fae27"/><stop offset="1" stop-color="#4cc42e"/></linearGradient>
<linearGradient id="alF" x1="0" y1="0" x2="0" y2="1"><stop offset="0" stop-color="#9e9e9e"/><stop offset="1" stop-color="#878787"/></linearGradient>
<linearGradient id="blT" x1="30" y1="0" x2="270" y2="0" gradientUnits="userSpaceOnUse"><stop offset="0" stop-color="#8cc7e7"/><stop offset="0.5" stop-color="#84c4e6"/><stop offset="1" stop-color="#78c2ea"/></linearGradient>
<clipPath id="blueclip"><path d="M31.4 41Q31 36 36 35.2L150 20Q190 15.5 213.6 14.6Q224 14 232 16.5L264 28Q268.2 29.6 268.1 33L267 56.6L91.6 83L47.8 87.9L33.2 61Z"/></clipPath>
<filter id="soft" x="-5%" y="-5%" width="110%" height="110%"><feGaussianBlur stdDeviation="0.6"/></filter>
</defs>
<g filter="url(#soft)">
<path d="M34.8 89.5L80.3 184.9L81.6 202.6L326.6 139.6L328 124L318 117.5L77 172Z" fill="url(#siF)"/>
<path d="M35 89.5L80.5 184.7L81.6 202.6L78.5 176Z" fill="#c6c6ce"/>
<path d="M77.4 172L318.5 116L328 124L80.5 184.7Z" fill="url(#siT)"/>
<path d="M80.5 184.7L327.5 124.6" stroke="#d6d6de" stroke-width="0.9" fill="none"/>
<path d="M35.7 88.5L35.5 91L77.9 175.4L318.2 118.6L318.9 112.7L287 95.6L200 95L60 100Z" fill="#7e3db8"/>
<path d="M35.7 88.5L76.9 169.2L318.9 112.7L287 95.6L200 95L60 100Z" fill="url(#puT)"/>
<path d="M35.7 88.5L76.9 169.2L77.9 175.4L35.5 91Z" fill="#8646c0"/>
<path d="M35.1 62L58.4 106.8L62.6 136L36 88.7Z" fill="#40a528"/>
<path d="M57.8 106.5L281 65L286 66.6Q288.9 68 288.9 71L288.7 88Q288.6 91 285.4 92.2L68 139Q63.3 139.5 62.6 135.3Z" fill="url(#grF)"/>
<path d="M35.1 62L216 38.3Q220.5 37.6 224 39.2L284 64.6Q286.5 66 284 66.6L58.4 108Z" fill="url(#grT)"/>
<path d="M58.2 107.2L62.4 135.3Q63.5 139.5 67 139.8L64 106.2Z" fill="#3c9d25" opacity="0.8"/>
<path d="M58.6 108.2L284.5 66.9" stroke="#58cc38" stroke-width="2.4" fill="none" opacity="0.7"/>
<path d="M92 121.8L192.5 102.6Q198.5 102 199.8 107L200.4 125.5Q200.3 127.2 198 127.6L101 148.2Q95.5 149 94 144.5L89.3 126Q88.6 122.6 92 121.8Z" fill="url(#alF)"/>
<path d="M92 121.8L192.5 102.6Q198 102 199.6 106.5Q199.5 109 197 109.2L95.5 130.3Q91.5 130.8 90.4 128L89.3 126Q88.6 122.6 92 121.8Z" fill="#adadad"/>
<path d="M218 96.3L274.5 87Q282 86.4 285 92L285.6 106Q285.4 108.3 283 108.9L230 120.2Q224 121 221 117L216.2 110.5L215.2 99.5Q215.2 96.8 218 96.3Z" fill="url(#alF)"/>
<path d="M218 96.3L274.5 87Q282 86.4 284.8 91.5Q284.8 93.2 282.5 93.7L221 104Q217 104.3 216 102L215.2 99.5Q215.2 96.8 218 96.3Z" fill="#adadad"/>
<path d="M31.4 41Q31 36 36 35.2L150 20Q190 15.5 213.6 14.6Q224 14 232 16.5L264 28Q268.2 29.6 268.1 33L267 56.6L91.6 83L47.8 87.9L33.2 61Z" fill="url(#blT)"/>
<path d="M31.4 41Q31 36 36 35.6L43 35.4L45.4 59.6L33.2 61Z" fill="#a6d3eb"/>
<g clip-path="url(#blueclip)">
<path d="M35.1 62L216 38.3Q220.5 37.6 224 39.2L284 64.6L58.4 108Z" fill="#2f9f58"/>
<path d="M35.1 62L216 38.3Q220.5 37.6 224 39.2L235 44L40 70Z" fill="#3aa85f" opacity="0.7"/>
<path d="M34 61L45.4 59.4L56.7 87.6L47 88.5Z" fill="#7fb894"/>
<path d="M34 61L39.5 60.2L51.5 88L47 88.5Z" fill="#a9c9b6"/>
</g>
<path d="M225 16.8L266.5 31.5L265.6 56L224 39.2Z" fill="#6ebfe6" opacity="0.55"/>
<path d="M69.9 45.2L102.4 80.5L104.2 93L100.6 93.2L68.6 50.6Z" fill="#44aa5a"/>
<path d="M69.9 45.2L80 56.6L78.5 63.2L68.6 50.6Z" fill="#9cc9b4" opacity="0.75"/>
<path d="M68.6 50.6L100.6 93.2" stroke="#2a8a48" stroke-width="1" fill="none" opacity="0.8"/>
<path d="M69.9 45.2L117.5 39.2Q120 39 121.8 41L155.2 72.8L102.4 80.5Z" fill="#4f8591"/>
<path d="M79 55.5L112 51.6L122 62.5L93 70.2Z" fill="#487c88" opacity="0.8"/>
<path d="M69.9 45.2L117.5 39.2Q120 39 121.8 41L131 49.5L77.5 56.5Z" fill="#5b8c98"/>
<path d="M102.4 80.5L155.2 72.8L155.8 85.2L104.2 92.9Z" fill="#dcbd76"/>
<path d="M102.4 80.5L155.2 72.8" stroke="#f5e6ac" stroke-width="1.1" fill="none"/>
<path d="M104.2 92.9L155.8 85.2" stroke="#a28a48" stroke-width="1.0" fill="none"/>
<path d="M160.2 38.5L210.4 64L211.6 75.3L208 75.6L159.1 45.6Z" fill="#44aa5a"/>
<path d="M160.2 38.5L176 46.8L174.5 54.5L159.1 45.6Z" fill="#9cc9b4" opacity="0.75"/>
<path d="M159.1 45.6L208 75.6" stroke="#2a8a48" stroke-width="1" fill="none" opacity="0.8"/>
<path d="M161.6 36.2L193.5 29.9Q196 29.6 198 31L253.6 57.5L210.4 64Z" fill="#4f8591"/>
<path d="M161.6 36.2L193.5 29.9Q196 29.6 198 31L216.5 39.8L174 45Z" fill="#5b8c98"/>
<path d="M210.4 64L253.6 57.5L253.6 67.6L211.6 75.3Z" fill="#dcbd76"/>
<path d="M210.4 64L253.6 57.5" stroke="#f5e6ac" stroke-width="1.1" fill="none"/>
<path d="M211.6 75.3L253.6 67.6" stroke="#a28a48" stroke-width="1.0" fill="none"/>
</g>
<text transform="translate(115.4 37.3)" font-size="17.4" text-anchor="start" font-weight="normal" fill="#0a0a0a" textLength="60.6" lengthAdjust="spacingAndGlyphs">PDPP3T</text>
<text transform="translate(116.9 88.6)" font-size="17.3" text-anchor="start" font-weight="normal" fill="#0a0a0a" textLength="21.0" lengthAdjust="spacingAndGlyphs">Au</text>
<text transform="translate(221.3 68.6)" font-size="17.3" text-anchor="start" font-weight="normal" fill="#0a0a0a" textLength="21.0" lengthAdjust="spacingAndGlyphs">Au</text>
<text transform="translate(167.2 96.9)" font-size="17.6" text-anchor="start" font-weight="normal" fill="#0a0a0a" textLength="43.9" lengthAdjust="spacingAndGlyphs">Al<tspan font-size="12.5">2</tspan>O<tspan font-size="12.5">3</tspan></text>
<text transform="translate(139.8 132.7)" font-size="17.3" text-anchor="start" font-weight="normal" fill="#0a0a0a" textLength="15.5" lengthAdjust="spacingAndGlyphs">Al</text>
<text transform="translate(243.6 111.8)" font-size="17.3" text-anchor="start" font-weight="normal" fill="#0a0a0a" textLength="15.5" lengthAdjust="spacingAndGlyphs">Al</text>
<text transform="translate(282.1 125.2)" font-size="17.0" text-anchor="start" font-weight="normal" fill="#0a0a0a" textLength="32.6" lengthAdjust="spacingAndGlyphs">SiO<tspan font-size="12.5">2</tspan></text>
<text transform="translate(293.0 144.5)" font-size="17.0" text-anchor="start" font-weight="normal" fill="#0a0a0a" textLength="13.4" lengthAdjust="spacingAndGlyphs">Si</text>
<text transform="translate(-2.6 22.6) scale(0.880 1)" font-size="30.0" text-anchor="start" font-weight="normal" fill="#0a0a0a" >a</text>
<text transform="translate(352.9 22.2)" font-size="30.0" text-anchor="start" font-weight="normal" fill="#0a0a0a" >b</text>
<text transform="translate(-0.4 239.6) scale(0.870 1)" font-size="30.0" text-anchor="start" font-weight="normal" fill="#0a0a0a" >c</text>
<text transform="translate(353.0 239.8)" font-size="30.0" text-anchor="start" font-weight="normal" fill="#0a0a0a" >d</text>
<text transform="translate(-0.8 485.7) scale(0.970 1)" font-size="30.0" text-anchor="start" font-weight="normal" fill="#0a0a0a" >e</text>
<text transform="translate(352.3 485.8) scale(1.280 1)" font-size="30.0" text-anchor="start" font-weight="normal" fill="#0a0a0a" >f</text>
<defs>
<clipPath id="phclip"><path d="M411.6 3.9L630.6 7.5L627.5 195.2L408.3 191.8Z"/></clipPath>
<linearGradient id="gpad" x1="0" y1="0" x2="0.25" y2="1"><stop offset="0" stop-color="#c8934a"/><stop offset="0.5" stop-color="#bb803c"/><stop offset="1" stop-color="#aa6a30"/></linearGradient>
<linearGradient id="bgg" x1="0" y1="0" x2="1" y2="1"><stop offset="0" stop-color="#2c4069"/><stop offset="1" stop-color="#304771"/></linearGradient>
</defs>
<g filter="url(#soft)">
<path d="M411.6 3.9L630.6 7.5L627.5 195.2L408.3 191.8Z" fill="url(#bgg)" stroke="#10162a" stroke-width="1.6" stroke-linejoin="miter"/>
<g clip-path="url(#phclip)"><g>
<rect x="433.8" y="76.8" width="52.2" height="9.4" fill="#a9b9a7" />
<rect x="433.8" y="76.8" width="9.6" height="60.7" fill="#a9b9a7" />
<rect x="560.0" y="65.4" width="51.0" height="7.5" fill="#a9b9a7" />
<rect x="601.2" y="65.4" width="9.8" height="73.1" fill="#a9b9a7" />
<rect x="484.4" y="10.7" width="75.4" height="74.6" fill="#c9954c" />
<rect x="548.5" y="69.6" width="12.0" height="4.8" fill="#2e446d" />
<rect x="549.0" y="66.6" width="12.0" height="2.8" fill="#a9b9a7" />
<path d="M496 74.7V22.2H549V74.7Z" fill="none" stroke="#979272" stroke-width="0.9"/>
<path d="M490.5 40Q493.5 48 490.5 57" fill="none" stroke="#8a6a30" stroke-width="0.7"/>
<rect x="520.2" y="85.0" width="8.7" height="53.0" fill="#c9954c" />
<rect x="496.9" y="137.1" width="50.6" height="51.1" fill="#c9954c" />
<rect x="413.3" y="136.6" width="50.3" height="51.0" fill="#c9954c" />
<rect x="417.2" y="141.9" width="41.5" height="40.9" fill="url(#gpad)" stroke="#a9763a" stroke-width="0.7"/>
<rect x="573.3" y="137.6" width="50.1" height="50.4" fill="#c9954c" />
<rect x="577.6" y="141.9" width="41.4" height="40.5" fill="none" stroke="#a57c3c" stroke-width="0.6"/>
<rect x="461.0" y="96.6" width="4.9" height="30.2" fill="#c9954c" />
<rect x="461.0" y="96.6" width="16.3" height="4.9" fill="#c9954c" />
<rect x="472.3" y="96.6" width="5.0" height="30.2" fill="#c9954c" />
<rect x="461.0" y="109.1" width="16.3" height="4.3" fill="#c9954c" />
<rect x="483.6" y="96.6" width="18.6" height="4.8" fill="#c9954c" />
<rect x="483.6" y="96.6" width="5.0" height="17.3" fill="#c9954c" />
<rect x="483.6" y="109.1" width="18.6" height="4.8" fill="#c9954c" />
<rect x="497.2" y="109.1" width="5.0" height="17.7" fill="#c9954c" />
<rect x="483.6" y="122.0" width="18.6" height="4.8" fill="#c9954c" />
<rect x="539.5" y="96.6" width="17.8" height="4.8" fill="#c9954c" />
<rect x="552.3" y="96.6" width="5.0" height="17.3" fill="#c9954c" />
<rect x="539.5" y="109.1" width="17.8" height="4.8" fill="#c9954c" />
<rect x="539.5" y="109.1" width="5.0" height="17.7" fill="#c9954c" />
<rect x="539.5" y="122.0" width="17.8" height="4.8" fill="#c9954c" />
<rect x="575.4" y="96.6" width="5.0" height="30.2" fill="#c9954c" />
<rect x="575.4" y="122.0" width="15.2" height="4.8" fill="#c9954c" />
</g></g>
</g>
<rect x="572.4" y="199" width="51" height="9.6" fill="#000"/>
<text transform="translate(516.3 57.8)" font-size="24.5" text-anchor="start" font-weight="normal" fill="#0a0a0a" textLength="16.0" lengthAdjust="spacingAndGlyphs">D</text>
<text transform="translate(427.3 172.1)" font-size="24.5" text-anchor="start" font-weight="normal" fill="#0a0a0a" textLength="15.8" lengthAdjust="spacingAndGlyphs">G</text>
<text transform="translate(514.6 172.1)" font-size="24.5" text-anchor="start" font-weight="normal" fill="#0a0a0a" textLength="13.2" lengthAdjust="spacingAndGlyphs">S</text>
<text transform="translate(576.6 172.1)" font-size="24.5" text-anchor="start" font-weight="normal" fill="#0a0a0a" textLength="15.2" lengthAdjust="spacingAndGlyphs">G</text>
<text transform="translate(593.0 172.1)" font-size="14.8" text-anchor="start" font-weight="normal" fill="#0a0a0a" textLength="27.2" lengthAdjust="spacingAndGlyphs">SIDE</text>
</svg>
</body></html>
